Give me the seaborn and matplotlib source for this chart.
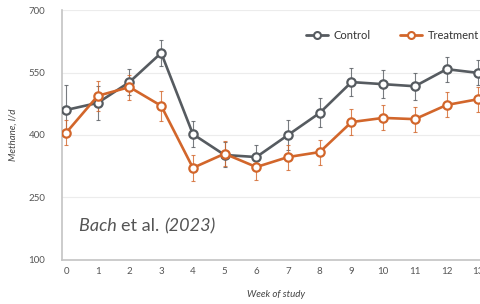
import matplotlib
matplotlib.use("Agg")
import matplotlib.pyplot as plt
from matplotlib.lines import Line2D
import pandas as pd
import seaborn as sns

# ----------------------------------------------------------------
# data
# ----------------------------------------------------------------
weeks = list(range(14))
control = [460, 477, 527, 597, 402, 352, 347, 400, 453, 527, 522, 517, 558, 549]
treatment = [405, 494, 515, 470, 321, 355, 323, 347, 359, 431, 441, 438, 472, 486]
control_err = [60, 40, 32, 32, 32, 30, 28, 35, 35, 33, 33, 33, 30, 30]
treatment_err = [30, 36, 30, 36, 32, 30, 30, 30, 30, 32, 30, 30, 30, 30]
y_ticks = [100, 250, 400, 550, 700]
groups = ["Control", "Treatment"]

GREY = "#565b60"
ORANGE = "#d2662b"
TXT = "#555555"

sns.set_theme(style="white")
plt.rcParams["font.family"] = ["Lato", "DejaVu Sans"]

df = pd.DataFrame({
    "week": weeks * 2,
    "methane": control + treatment,
    "group": ["Control"] * len(weeks) + ["Treatment"] * len(weeks),
})

fig = plt.figure(figsize=(4.8, 3.04), dpi=100)
ax = fig.add_axes([0.129, 0.145, 0.894, 0.822])

for vals, err, col in [(control, control_err, GREY), (treatment, treatment_err, ORANGE)]:
    ax.errorbar(weeks, vals, yerr=err, fmt="none", ecolor=col, elinewidth=0.8,
                capsize=1.5, capthick=0.8, alpha=0.8, zorder=2)

for g, col in zip(groups, [GREY, ORANGE]):
    sns.lineplot(data=df[df["group"] == g], x="week", y="methane", color=col,
                 marker="o", markersize=6, markerfacecolor="white",
                 markeredgecolor=col, markeredgewidth=1.6, linewidth=1.9,
                 ax=ax, zorder=3, legend=False)

ax.set_xlim(-0.13, 13.4)
ax.set_ylim(100, 700)
ax.set_yticks(y_ticks)
ax.set_xticks(weeks)
ax.grid(axis="y", color="#ececec", linewidth=0.8)
ax.set_axisbelow(True)
for s in ["top", "right"]:
    ax.spines[s].set_visible(False)
for s in ["left", "bottom"]:
    ax.spines[s].set_color("#c4c4c4")
    ax.spines[s].set_linewidth(1.2)
ax.tick_params(axis="both", labelsize=7, colors=TXT, length=0)
ax.tick_params(axis="y", pad=12)
ax.tick_params(axis="x", pad=5)

ax.set_xlabel("Week of study", fontsize=7, style="italic", color="#444444", labelpad=10)
ax.set_ylabel("Methane, l/d", fontsize=7, style="italic", color="#444444", labelpad=8)

handles = [Line2D([], [], color=c, marker="o", markersize=5, markerfacecolor="white",
                  markeredgecolor=c, markeredgewidth=1.5, linewidth=2)
           for c in [GREY, ORANGE]]
leg = ax.legend(handles, groups, loc="upper left", bbox_to_anchor=(0.545, 0.96), ncol=2,
                frameon=False, fontsize=8, handlelength=2.0, columnspacing=2.6,
                handletextpad=0.5)
for t in leg.get_texts():
    t.set_color("#333333")

# citation: italic author/year, upright "et al."
fig.canvas.draw()
x0 = 0.04
for part, sty in [("Bach ", "italic"), ("et al. ", "normal"), ("(2023)", "italic")]:
    t = ax.text(x0, 0.115, part, transform=ax.transAxes, fontsize=13, style=sty, color=TXT)
    bb = t.get_window_extent(renderer=fig.canvas.get_renderer())
    x0 += bb.width / ax.bbox.width

fig.savefig("out.png", dpi=100, facecolor="white")
